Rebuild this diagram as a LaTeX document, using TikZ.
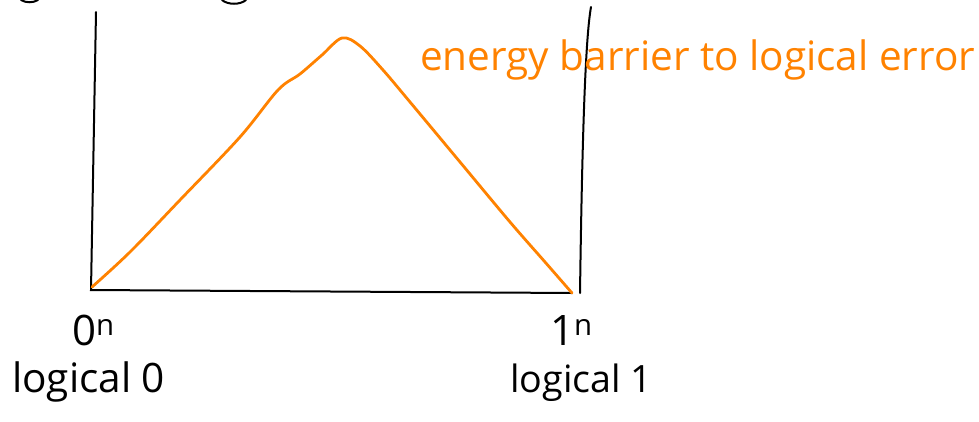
\documentclass[tikz,border=0pt]{standalone}
\usepackage{fontspec}
\setmainfont{Open Sans}
\definecolor{barrier}{RGB}{255,130,0}
\tikzset{
  axisline/.style={draw=black, line width=2pt, line cap=round},
  curveline/.style={draw=barrier, line width=2.8pt, line cap=round, line join=round},
  lbl/.style={inner sep=0pt, anchor=base west},
}
\begin{document}
\begin{tikzpicture}[x=1pt,y=-1pt]
\useasboundingbox[fill=white] (0,0) rectangle (979,421);
% fragments of cut-off text at the top edge
\draw[axisline] (21,0) .. controls (26,3) and (33,3) .. (38,0);
\draw[axisline] (222,0) .. controls (228,5) and (240,5) .. (246,0);
% axes
\coordinate (tl) at (96,12);
\coordinate (bl) at (91,290);
\coordinate (br) at (572,293);
\coordinate (tr) at (591,7);
\coordinate (rb) at (580,293);
\draw[axisline] (tl) -- (bl) -- (br);
\draw[axisline] (tr) .. controls (585,40) and (582,150) .. (rb);
% energy curve
\draw[curveline] plot[smooth, tension=0.55] coordinates {
  (92,287) (130,252) (180,200) (240,137) (278,90) (300,74) (322,55) (342,38)
  (360,46) (383,70) (410,102) (460,162) (510,222) (545,262) (572,293)};
% labels
\node[lbl, text=barrier, font=\fontsize{36}{36}\selectfont] (bar) at (420,70)
  {\resizebox{555pt}{!}{energy barrier to logical error}};
\node[lbl, font=\fontsize{42}{42}\selectfont] (zero) at (72,345) {0\textsuperscript{n}};
\node[lbl] (lz) at (12,392) {\resizebox{153pt}{!}{\fontsize{34}{34}\selectfont logical 0}};
\node[lbl, font=\fontsize{42}{42}\selectfont] (one) at (550,345) {1\textsuperscript{n}};
\node[lbl] (lo) at (510,392) {\resizebox{142pt}{!}{\fontsize{34}{34}\selectfont logical 1}};
\end{tikzpicture}
\end{document}
